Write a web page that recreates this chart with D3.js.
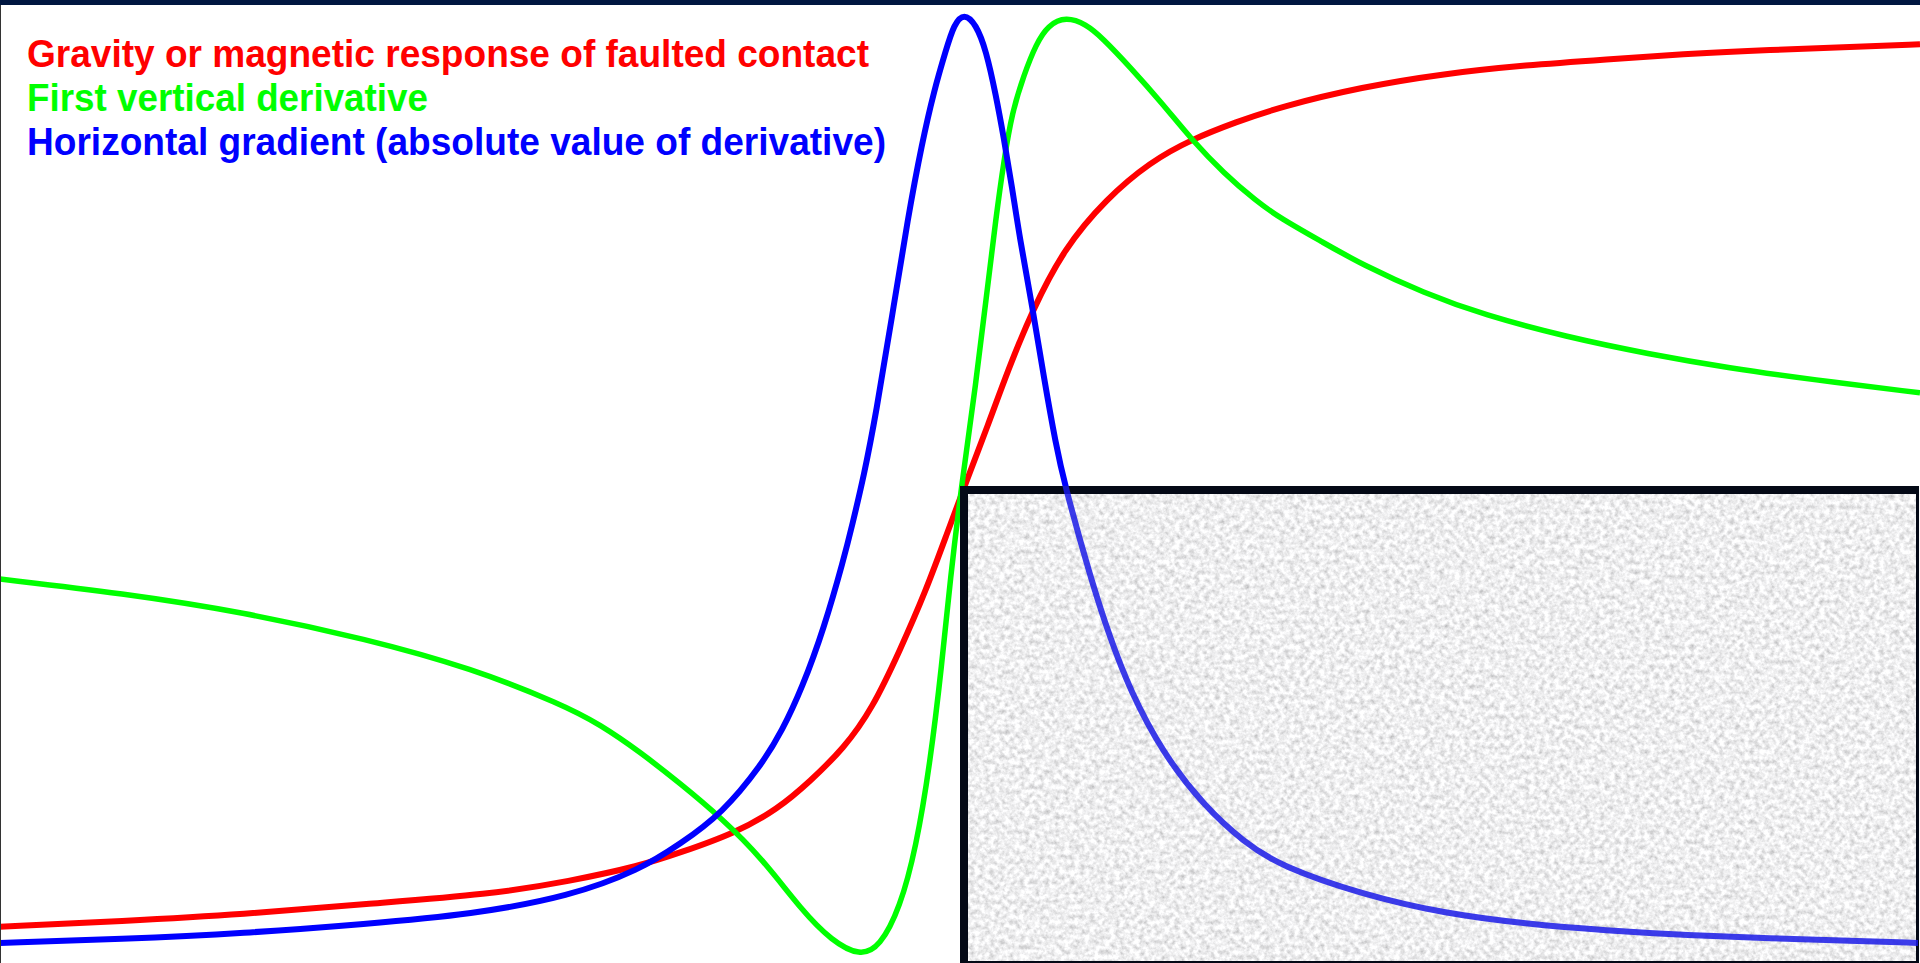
<!DOCTYPE html>
<html>
<head>
<meta charset="utf-8">
<script src="https://cdn.jsdelivr.net/npm/d3@7"></script>
<style>
  html, body { margin: 0; padding: 0; background: #fff; overflow: hidden; }
  svg { display: block; }
</style>
</head>
<body>
<div id="chart"></div>
<script>
"use strict";

// distance from the contact (arbitrary units) and normalised amplitude
const redDist = [-480, -419, -358, -297, -235, -195, -160, -140, -113, -91, -75, -58, -44, -30, -17, -7, 3, 14, 24, 36, 52, 73, 95, 116, 138, 160, 201, 242, 283, 323, 364, 405, 446, 480];
const redVal = [0.035, 0.041, 0.048, 0.059, 0.069, 0.083, 0.099, 0.113, 0.133, 0.159, 0.188, 0.223, 0.264, 0.326, 0.389, 0.446, 0.503, 0.563, 0.621, 0.683, 0.749, 0.801, 0.840, 0.864, 0.882, 0.898, 0.919, 0.933, 0.942, 0.948, 0.954, 0.958, 0.961, 0.964];

const greenDist = [-480, -419, -358, -297, -244, -199, -180, -160, -140, -119, -99, -79, -64, -50, -40, -30, -22, -15, -9, -5, 1, 8, 13, 18, 22, 26, 32, 38, 44, 53, 63, 71, 85, 101, 116, 132, 148, 160, 181, 201, 232, 262, 303, 344, 385, 426, 480];
const greenVal = [0.401, 0.386, 0.366, 0.338, 0.307, 0.269, 0.248, 0.219, 0.186, 0.149, 0.107, 0.052, 0.020, 0.004, 0.014, 0.055, 0.118, 0.206, 0.312, 0.399, 0.504, 0.607, 0.695, 0.782, 0.842, 0.892, 0.932, 0.964, 0.984, 0.993, 0.985, 0.971, 0.940, 0.902, 0.863, 0.828, 0.799, 0.781, 0.756, 0.732, 0.702, 0.679, 0.656, 0.638, 0.623, 0.611, 0.597];

const blueDist = [-480, -419, -358, -297, -244, -195, -160, -140, -119, -99, -89, -79, -68, -58, -54, -48, -42, -34, -26, -19, -13, -7, -3, 2, 8, 13, 18, 22, 26, 30, 36, 42, 48, 52, 65, 75, 85, 101, 122, 142, 160, 201, 242, 283, 323, 364, 405, 446, 479];
const blueVal = [0.018, 0.022, 0.028, 0.038, 0.048, 0.067, 0.095, 0.122, 0.154, 0.206, 0.241, 0.286, 0.349, 0.423, 0.457, 0.510, 0.575, 0.677, 0.782, 0.860, 0.915, 0.958, 0.985, 0.997, 0.985, 0.958, 0.910, 0.864, 0.814, 0.758, 0.690, 0.612, 0.542, 0.503, 0.404, 0.339, 0.284, 0.219, 0.162, 0.124, 0.099, 0.069, 0.049, 0.038, 0.031, 0.026, 0.023, 0.020, 0.018];

const labels = [
  "Gravity or magnetic response of faulted contact",
  "First vertical derivative",
  "Horizontal gradient (absolute value of derivative)"
];
const labelWidths = [842, 401, 859];
const colors = ["#ff0000", "#00ff00", "#0000ff"];

const width = 1920, height = 963;

const svg = d3.select("#chart").append("svg")
  .attr("width", width)
  .attr("height", height);

const defs = svg.append("defs");

// grainy grey texture for the inset panel
const noise = defs.append("filter")
  .attr("id", "grain")
  .attr("x", 0).attr("y", 0).attr("width", "100%").attr("height", "100%");
noise.append("feTurbulence")
  .attr("type", "fractalNoise")
  .attr("baseFrequency", 0.2)
  .attr("numOctaves", 3)
  .attr("seed", 7)
  .attr("result", "n");
noise.append("feColorMatrix")
  .attr("in", "n")
  .attr("type", "matrix")
  .attr("values", "0.8 0 0 0 0.46  0.8 0 0 0 0.46  0.8 0 0 0 0.47  0 0 0 0 1");

const box = {x: 960, y: 486, w: 959, h: 477};
defs.append("clipPath").attr("id", "boxclip")
  .append("rect")
  .attr("x", box.x).attr("y", box.y)
  .attr("width", box.w).attr("height", box.h);

svg.append("rect")
  .attr("width", width).attr("height", height)
  .attr("fill", "#ffffff");

const x = d3.scaleLinear().domain([-480, 480]).range([0, width]);
const y = d3.scaleLinear().domain([0, 1]).range([960, 10]);

const lineGen = d3.line()
  .x(d => x(d[0]))
  .y(d => y(d[1]))
  .curve(d3.curveBasis);

const series = [
  {pts: d3.zip(redDist, redVal), color: colors[0], w: 6},
  {pts: d3.zip(greenDist, greenVal), color: colors[1], w: 5.5},
  {pts: d3.zip(blueDist, blueVal), color: colors[2], w: 6}
];

series.forEach(s => {
  svg.append("path")
    .attr("d", lineGen(s.pts))
    .attr("fill", "none")
    .attr("stroke", s.color)
    .attr("stroke-width", s.w)
    .attr("stroke-linejoin", "round");
});

// inset panel
svg.append("rect")
  .attr("x", box.x).attr("y", box.y)
  .attr("width", box.w).attr("height", box.h)
  .attr("fill", "#040916");
svg.append("rect")
  .attr("x", box.x + 8).attr("y", box.y + 8)
  .attr("width", box.w - 11).attr("height", box.h - 10)
  .attr("fill", "#dadadc")
  .attr("filter", "url(#grain)");

// horizontal gradient stays visible across the panel
svg.append("path")
  .attr("d", lineGen(series[2].pts))
  .attr("clip-path", "url(#boxclip)")
  .attr("fill", "none")
  .attr("stroke", "#1a1ae6")
  .attr("stroke-opacity", 0.85)
  .attr("stroke-width", 6);

// frame
svg.append("rect")
  .attr("x", 0).attr("y", 0)
  .attr("width", width).attr("height", 5)
  .attr("fill", "#001640");
svg.append("line")
  .attr("x1", 0.5).attr("x2", 0.5)
  .attr("y1", 5).attr("y2", height)
  .attr("stroke", "#333")
  .attr("stroke-width", 1);

// legend
svg.append("g")
  .selectAll("text")
  .data(labels)
  .join("text")
  .attr("x", 27)
  .attr("y", (d, i) => 67 + i * 44)
  .attr("fill", (d, i) => colors[i])
  .attr("font-family", "'Liberation Sans', Arial, sans-serif")
  .attr("font-weight", "bold")
  .attr("font-size", 39)
  .attr("textLength", (d, i) => labelWidths[i])
  .attr("lengthAdjust", "spacingAndGlyphs")
  .text(d => d);
</script>
</body>
</html>
